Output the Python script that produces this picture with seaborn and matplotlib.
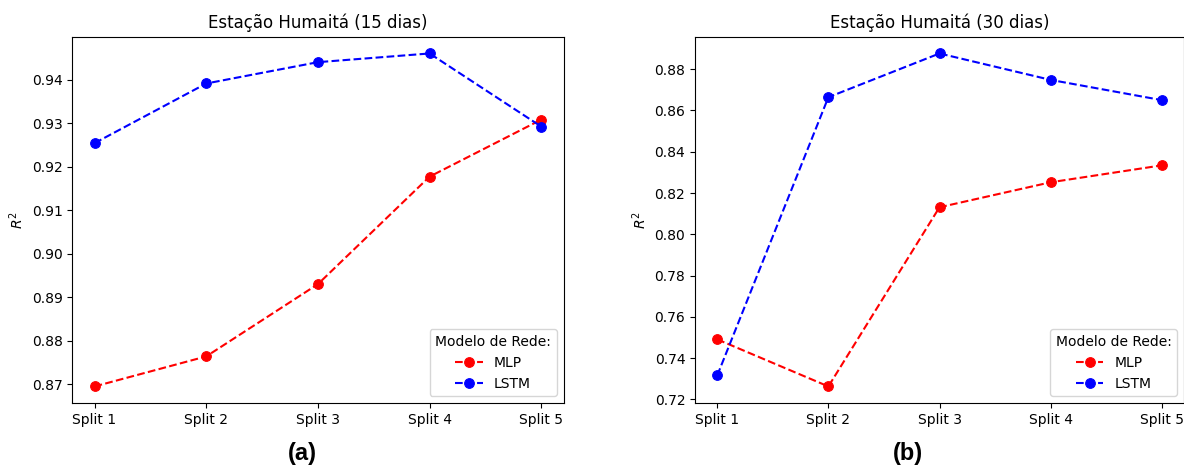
import pandas as pd
import matplotlib.pyplot as plt
import seaborn as sns

# Split labels
splits = ["Split 1", "Split 2", "Split 3", "Split 4", "Split 5"]

# R2 per split, Humaitá 15 dias
mlp_15 = [0.8695, 0.8764, 0.8930, 0.9177, 0.9308]
lstm_15 = [0.9254, 0.9391, 0.9440, 0.9460, 0.9292]

# R2 per split, Humaitá 30 dias
mlp_30 = [0.7491, 0.7263, 0.8131, 0.8252, 0.8334]
lstm_30 = [0.7316, 0.8664, 0.8876, 0.8748, 0.8650]

titles = ["Estação Humaitá (15 dias)", "Estação Humaitá (30 dias)"]
panel_labels = ["(a)", "(b)"]
colors = {"MLP": "red", "LSTM": "blue"}

fig = plt.figure(figsize=(11.84, 4.72), dpi=100)
ax_a = fig.add_axes([0.061, 0.146, 0.415, 0.776])
ax_b = fig.add_axes([0.587, 0.146, 0.413, 0.776])

panels = [(ax_a, mlp_15, lstm_15), (ax_b, mlp_30, lstm_30)]

for i, (ax, mlp, lstm) in enumerate(panels):
    df = pd.DataFrame({"split": splits, "MLP": mlp, "LSTM": lstm})
    for model in ["MLP", "LSTM"]:
        sns.lineplot(x="split", y=model, data=df, ax=ax, color=colors[model],
                     linestyle="--", marker="o", markersize=7,
                     markeredgecolor=colors[model], label=model)
    ax.set_title(titles[i], fontsize=12)
    ax.set_xlabel("")
    ax.set_ylabel("$R^2$")
    ax.legend(title="Modelo de Rede:", loc="lower right")

ax_a.set_yticks([0.87, 0.88, 0.89, 0.90, 0.91, 0.92, 0.93, 0.94])
ax_b.set_yticks([0.72, 0.74, 0.76, 0.78, 0.80, 0.82, 0.84, 0.86, 0.88])

fig.text(0.255, 0.025, panel_labels[0], fontsize=17, fontweight="bold",
         family="Liberation Sans", ha="center")
fig.text(0.767, 0.025, panel_labels[1], fontsize=17, fontweight="bold",
         family="Liberation Sans", ha="center")

plt.savefig("out.png", dpi=100)
